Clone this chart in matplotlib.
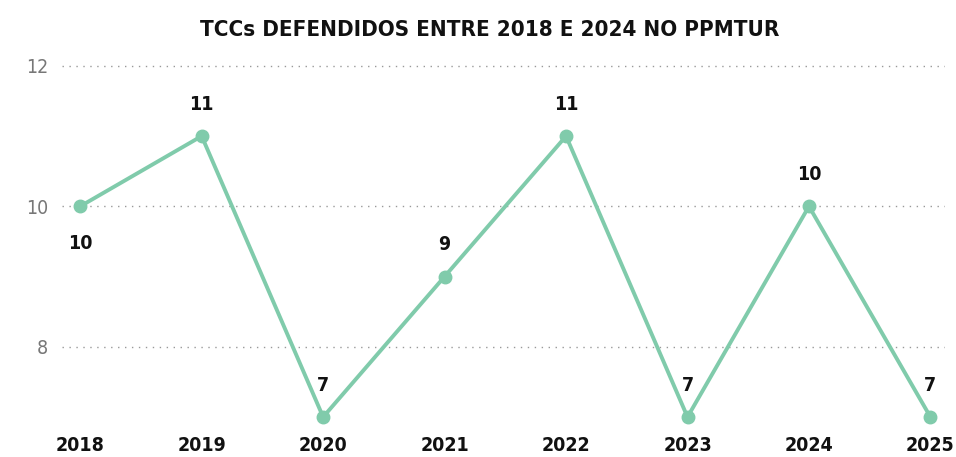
import matplotlib.pyplot as plt

anos = [2018, 2019, 2020, 2021, 2022, 2023, 2024, 2025]
tccs = [10, 11, 7, 9, 11, 7, 10, 7]
rotulos_y = [8, 10, 12]

fonte = 'DejaVu Sans'
verde = '#80CBAB'

fig = plt.figure(figsize=(9.56, 4.57), dpi=100)
ax = fig.add_axes([62 / 956, 0.070, (945 - 62) / 956, 0.81])

ax.plot(anos, tccs, color=verde, linewidth=2.8, marker='o', markersize=9,
        zorder=3)

# rótulos dos valores
for i, (a, v) in enumerate(zip(anos, tccs)):
    dy = -27 if i == 0 else 23
    ax.annotate(str(v), (a, v), xytext=(0, dy), textcoords='offset points',
                ha='center', va='center', fontsize=14, fontweight='bold',
                family=fonte, fontstretch='condensed', color='#111111')

ax.set_xlim(2017.85, 2025.12)
ax.set_ylim(6.886, 12.157)
ax.set_xticks(anos)
ax.set_xticklabels([str(a) for a in anos], fontsize=14, fontweight='bold',
                   family=fonte, fontstretch='condensed', color='#111111')
ax.set_yticks(rotulos_y)
ax.set_yticklabels([str(r) for r in rotulos_y], fontsize=14, family=fonte,
                   fontstretch='condensed', color='#777777')
ax.tick_params(axis='both', length=0)
ax.tick_params(axis='x', pad=8)
ax.tick_params(axis='y', pad=10)
ax.grid(axis='y', linestyle=(0, (1, 4)), color='#999999', linewidth=1)
ax.set_axisbelow(True)
for s in ax.spines.values():
    s.set_visible(False)

fig.text(0.512, 0.935, 'TCCs DEFENDIDOS ENTRE 2018 E 2024 NO PPMTUR',
         ha='center', va='center', fontsize=16, fontweight='bold',
         family=fonte, fontstretch='condensed', color='#111111')

plt.savefig('out.png', dpi=100)
